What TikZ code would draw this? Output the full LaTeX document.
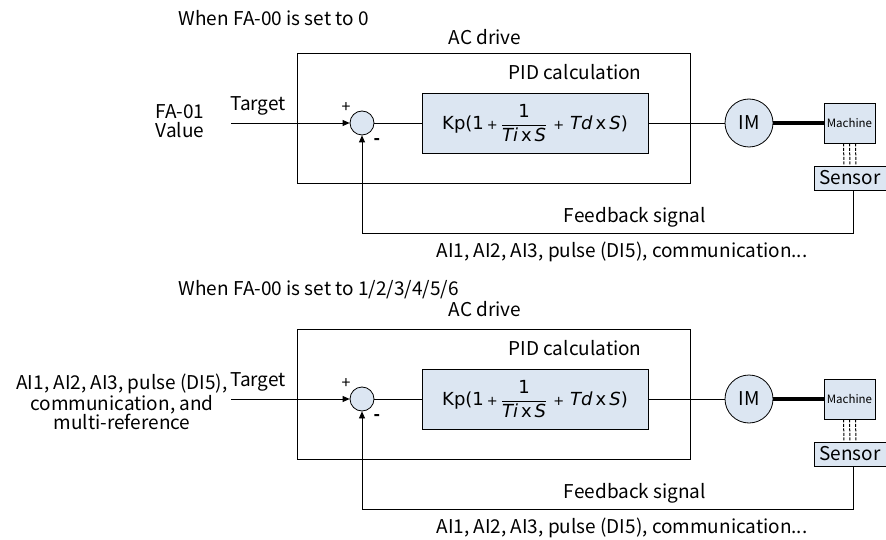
\documentclass[tikz,border=0pt]{standalone}
\usepackage{fontspec}
\usepackage{amsmath}
\setmainfont{Noto Sans CJK SC}
\newfontfamily\formulafont{DejaVu Sans}
\usetikzlibrary{arrows.meta,positioning}
\definecolor{pidblue}{HTML}{DCE6F2}

\begin{document}
\begin{tikzpicture}[
    x = 1pt, y = -1pt,
    line width = 0.8pt,
    font = \fontsize{19}{19}\selectfont,
    block/.style = {draw, fill = pidblue, inner sep = 0pt},
    drivebox/.style = {draw, minimum width = 393pt, minimum height = 130pt},
    sumnode/.style = {draw, circle, fill = pidblue, minimum size = 24pt, inner sep = 0pt},
    motor/.style = {draw, circle, fill = pidblue, minimum size = 48pt, inner sep = 0pt},
    sig/.style = {-{Triangle[length = 7pt, width = 6pt]}},
    shaft/.style = {line width = 3.5pt},
    link/.style = {line width = 1pt, dash pattern = on 3pt off 1.5pt}
]
\useasboundingbox (0,0) rectangle (886,540);
\foreach \dy/\hy/\sx/\sy/\cond/\src in {0/0/180/121/0/{FA-01\\Value},
    276/272/122/126/{1/2/3/4/5/6}/{AI1, AI2, AI3, pulse (DI5),\\communication, and\\multi-reference}} {
  % heading
  \node[anchor = west] (cond) at (175, \hy+18) {When FA-00 is set to \cond};
  \node (drive) at (485, \hy+37) {AC drive};
  \begin{scope}[yshift = -\dy pt]
  \node[drivebox] (acbox) at (493.5,118) {};
  \node (pidlabel) at (575,72) {PID calculation};
  \node[sumnode] (sum) at (362,123) {};
  \node[block, minimum width = 226pt, minimum height = 60pt, font = \formulafont\fontsize{18}{20}\selectfont] (pid) at (535,123)
    {Kp(1\,{\fontsize{13}{13}\selectfont +}\,$\dfrac{\text{1}}{\text{\itshape Ti}\text{\,x\,}\text{\itshape S}}$\,\,{\fontsize{13}{13}\selectfont +}\,\,\textit{Td}\,x\,\textit{S})};
  \node[motor] (im) at (749,123) {IM};
  \node[block, minimum width = 51pt, minimum height = 40pt, font = \fontsize{11.5}{13}\selectfont] (machine) at (849.5,123) {Machine};
  \node[block, minimum width = 72pt, minimum height = 24pt] (sensor) at (850,178) {Sensor};
  \node[align = center] (src) at (\sx,\sy) {\src};
  \node (target) at (258,106) {Target};
  \node[font = \fontsize{16}{16}\selectfont] (plus) at (346,108) {+};
  \node[font = \fontsize{17}{17}\selectfont\bfseries] (minus) at (377,142) {-};
  \node (fbtext) at (635,217) {Feedback signal};
  \node (fbsrc) at (622,252) {AI1, AI2, AI3, pulse (DI5), communication...};
  \coordinate (in) at (231,123);
  \coordinate (fb) at (362,233);
  % connections
  \draw[sig] (in) -- (sum);
  \draw (sum) -- (pid) -- (im);
  \draw[shaft] (im) -- (machine);
  \foreach \dx in {-6,0,6}
    \draw[link] ([xshift = \dx pt]machine.south) -- ([xshift = \dx pt]sensor.north);
  \draw[sig] ([xshift = 3pt]sensor.south) |- (fb) -- (sum);
  \end{scope}
}
\end{tikzpicture}
\end{document}
